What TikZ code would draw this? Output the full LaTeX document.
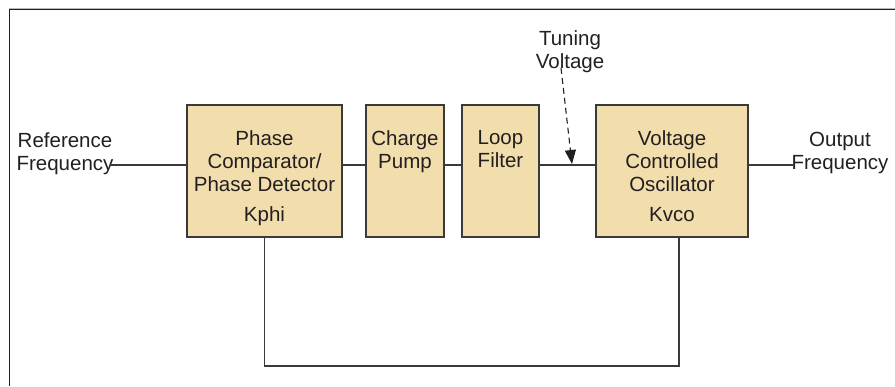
\documentclass[tikz,border=0pt]{standalone}
\usepackage{fontspec}
\setmainfont{Liberation Sans}
\usetikzlibrary{arrows.meta}
\definecolor{boxfill}{HTML}{F2DDAC}
\definecolor{ink}{HTML}{231F20}
\definecolor{wirec}{HTML}{3A3A3A}
\begin{document}
\begin{tikzpicture}[x=1pt,y=1pt,
  blk/.style={draw=wirec, fill=boxfill, line width=1.1pt, inner sep=0pt, outer sep=0pt, anchor=north west},
  lbl/.style={text=ink, font=\fontsize{20.5}{23}\selectfont, align=center, inner sep=0pt, anchor=north},
  wire/.style={draw=wirec, line width=1.1pt},
  tune/.style={draw=ink, line width=1.1pt, dash pattern=on 6pt off 4pt, -{Triangle[width=11pt,length=14pt]}}]
\useasboundingbox (0,0) rectangle (895,386);
% frame
\draw[gray!55, line width=0.8pt] (9,377.5) -- (895,377.5);
\draw[ink, line width=1pt] (9,0) -- (9,376) -- (895,376);
% blocks
\node[blk, minimum width=155pt, minimum height=132pt] (pd) at (187,281) {};
\node[blk, minimum width=78pt, minimum height=132pt] (cp) at (366,281) {};
\node[blk, minimum width=77pt, minimum height=132pt] (lf) at (462,281) {};
\node[blk, minimum width=152pt, minimum height=132pt] (vco) at (596,281) {};
% block labels
\node[lbl] (pdt) at ([yshift=-25.5pt]pd.north) {Phase\\Comparator/\\Phase Detector\\[7pt]Kphi};
\node[lbl] (cpt) at ([yshift=-25.5pt]cp.north) {Charge\\Pump};
\node[lbl] (lft) at ([yshift=-25.5pt]lf.north) {Loop\\Filter};
\node[lbl] (vcot) at ([yshift=-25.5pt]vco.north) {Voltage\\Controlled\\Oscillator\\[7pt]Kvco};
% outside labels
\node[lbl] (ref) at (65,254) {Reference\\Frequency};
\node[lbl] (out) at (840,254) {Output\\Frequency};
\node[lbl] (tv) at (570,356) {Tuning\\Voltage};
% coordinates
\coordinate (refin) at (110,221);
\coordinate (outc) at (793,221);
\coordinate (fb) at (0,20);
\coordinate (vcotap) at (679,149);
\coordinate (tvs) at (561,318);
\coordinate (tvt) at (572,222);
% connectors
\draw[wire] (refin) -- (refin -| pd.west);
\draw[wire] (pd.east |- refin) -- (cp.west |- refin);
\draw[wire] (cp.east |- refin) -- (lf.west |- refin);
\draw[wire] (lf.east |- refin) -- (vco.west |- refin);
\draw[wire] (vco.east |- refin) -- (outc);
\draw[wire] (pd.south) -- (pd.south |- fb) -| (vcotap);
\draw[tune] (tvs) -- (tvt);
\end{tikzpicture}
\end{document}
